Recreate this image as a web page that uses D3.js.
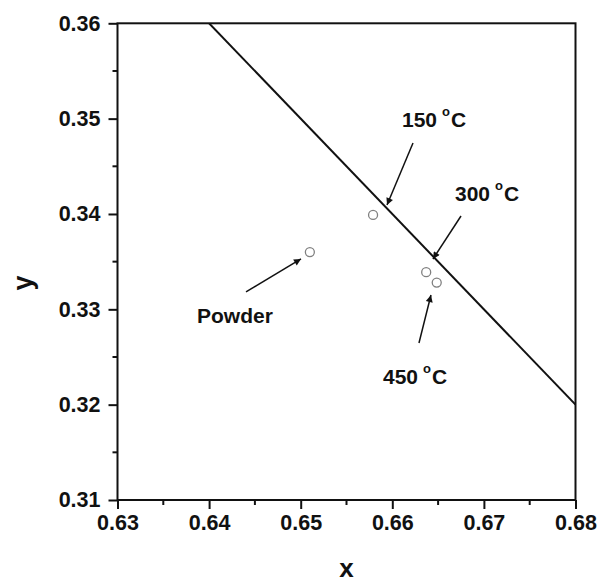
<!DOCTYPE html>
<html>
<head>
<meta charset="utf-8">
<script src="https://cdn.jsdelivr.net/npm/d3@7"></script>
<style>
  html, body { margin: 0; padding: 0; background: #fff; }
  svg { display: block; }
  text { font-family: "Liberation Sans", Arial, sans-serif; font-weight: bold; fill: #111; }
</style>
</head>
<body>
<svg id="chart" width="599" height="583"></svg>
<script>
// ---- data ----
const pointX = [0.6579, 0.6510, 0.6637, 0.66485];
const pointY = [0.3399, 0.3360, 0.3339, 0.3328];

const lineX = [0.64, 0.68];
const lineY = [0.36, 0.32];

const xTicks = [0.63, 0.64, 0.65, 0.66, 0.67, 0.68];
const yTicks = [0.31, 0.32, 0.33, 0.34, 0.35, 0.36];
const xMinor = [0.635, 0.645, 0.655, 0.665, 0.675];
const yMinor = [0.315, 0.325, 0.335, 0.345, 0.355];

const labelText = ["150", "300", "450", "Powder"];
const labelDeg = [true, true, true, false];
const labelX = [0.66106, 0.66684, 0.65898, 0.63868];
const labelY = [0.34912, 0.34136, 0.32217, 0.32857];

const arrowX1 = [0.66226, 0.6675, 0.66291, 0.64403];
const arrowY1 = [0.34744, 0.33979, 0.32647, 0.33182];
const arrowX2 = [0.65942, 0.66444, 0.66422, 0.65003];
const arrowY2 = [0.34094, 0.33528, 0.33150, 0.33528];

// ---- layout ----
const svg = d3.select("#chart");
const mLeft = 117.5, mRight = 575.5, mTop = 23.3, mBottom = 500;

const x = d3.scaleLinear().domain([0.63, 0.68]).range([mLeft, mRight]);
const y = d3.scaleLinear().domain([0.31, 0.36]).range([mBottom, mTop]);

const defs = svg.append("defs");
defs.append("clipPath").attr("id", "clip")
  .append("rect").attr("x", mLeft).attr("y", mTop)
  .attr("width", mRight - mLeft).attr("height", mBottom - mTop);

defs.append("marker")
  .attr("id", "arrow").attr("viewBox", "0 0 10 10")
  .attr("refX", 10).attr("refY", 5)
  .attr("markerWidth", 11).attr("markerHeight", 7)
  .attr("markerUnits", "userSpaceOnUse")
  .attr("orient", "auto")
  .append("path").attr("d", "M0,0 L10,5 L0,10 z").attr("fill", "#111");

// axes
const xAxis = d3.axisBottom(x).tickValues(xTicks).tickFormat(d3.format(".2f"))
  .tickSize(9).tickPadding(6);
const yAxis = d3.axisLeft(y).tickValues(yTicks).tickFormat(d3.format(".2f"))
  .tickSize(9).tickPadding(8);

const gx = svg.append("g").attr("transform", `translate(0,${mBottom})`).call(xAxis);
const gy = svg.append("g").attr("transform", `translate(${mLeft},0)`).call(yAxis);
[gx, gy].forEach(g => {
  g.select(".domain").remove();
  g.selectAll(".tick line").attr("stroke", "#111").attr("stroke-width", 2);
  g.selectAll(".tick text").style("font-size", "21.5px").attr("fill", "#111");
});

// minor ticks
svg.append("g").selectAll("line").data(xMinor).join("line")
  .attr("x1", d => x(d)).attr("x2", d => x(d))
  .attr("y1", mBottom).attr("y2", mBottom + 5)
  .attr("stroke", "#111").attr("stroke-width", 2);
svg.append("g").selectAll("line").data(yMinor).join("line")
  .attr("y1", d => y(d)).attr("y2", d => y(d))
  .attr("x1", mLeft).attr("x2", mLeft - 5)
  .attr("stroke", "#111").attr("stroke-width", 2);

// frame
svg.append("rect").attr("x", mLeft).attr("y", mTop)
  .attr("width", mRight - mLeft).attr("height", mBottom - mTop)
  .attr("fill", "none").attr("stroke", "#111").attr("stroke-width", 2);

// line
svg.append("path")
  .datum(lineX.map((d, i) => [d, lineY[i]]))
  .attr("clip-path", "url(#clip)")
  .attr("d", d3.line().x(d => x(d[0])).y(d => y(d[1])))
  .attr("fill", "none").attr("stroke", "#111").attr("stroke-width", 2);

// points
svg.append("g").selectAll("circle").data(pointX).join("circle")
  .attr("cx", d => x(d)).attr("cy", (d, i) => y(pointY[i]))
  .attr("r", 4.5).attr("fill", "none")
  .attr("stroke", "#808080").attr("stroke-width", 1.3);

// arrows
svg.append("g").selectAll("line").data(arrowX1).join("line")
  .attr("x1", d => x(d)).attr("y1", (d, i) => y(arrowY1[i]))
  .attr("x2", (d, i) => x(arrowX2[i])).attr("y2", (d, i) => y(arrowY2[i]))
  .attr("stroke", "#111").attr("stroke-width", 1.5)
  .attr("marker-end", "url(#arrow)");

// labels
labelText.forEach((t, i) => {
  const txt = svg.append("text")
    .attr("x", x(labelX[i])).attr("y", y(labelY[i]))
    .style("font-size", "21px");
  txt.append("tspan").text(t);
  if (labelDeg[i]) {
    txt.append("tspan").text("o").style("font-size", "13px").attr("dx", 5).attr("dy", -11);
    txt.append("tspan").text("C").attr("dx", 1).attr("dy", 11);
  }
});

// axis titles
svg.append("text").attr("x", (mLeft + mRight) / 2).attr("y", 577)
  .attr("text-anchor", "middle").style("font-size", "26px").text("x");
svg.append("text")
  .attr("transform", `translate(32,283) rotate(-90)`)
  .attr("text-anchor", "middle").style("font-size", "27px").text("y");
</script>
</body>
</html>
